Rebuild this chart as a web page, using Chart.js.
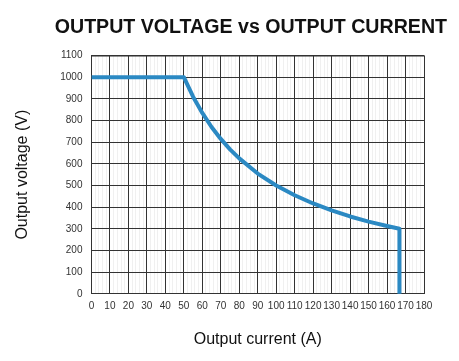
<!DOCTYPE html>
<html>
<head>
<meta charset="utf-8">
<script src="https://cdn.jsdelivr.net/npm/chart.js@4"></script>
<style>
  html, body { margin: 0; padding: 0; background: #fff; }
  #wrap { width: 459px; height: 361px; }
</style>
</head>
<body>
<div id="wrap"><canvas id="vi"></canvas></div>
<script>
// values
var currentA = [0, 50, 55, 60, 65, 70, 75, 80, 90, 100, 110, 120, 130, 140, 150, 160, 166.7, 166.7];
var voltageV = [1000, 1000, 910, 835, 770, 715, 667, 625, 555, 500, 455, 417, 385, 357, 333, 313, 300, 0];

var xTicks = [0, 10, 20, 30, 40, 50, 60, 70, 80, 90, 100, 110, 120, 130, 140, 150, 160, 170, 180];
var yTicks = [0, 100, 200, 300, 400, 500, 600, 700, 800, 900, 1000, 1100];

var fontFam = "Arial, 'Liberation Sans', sans-serif";

var points = currentA.map(function(c, i) { return { x: c, y: voltageV[i] }; });

var ctx = document.getElementById('vi').getContext('2d');
new Chart(ctx, {
    type: 'scatter',
    data: {
        datasets: [{
            data: points,
            showLine: true,
            borderColor: '#2b89c3',
            borderWidth: 4,
            pointRadius: 0,
            tension: 0,
            borderJoinStyle: 'round'
        }]
    },
    options: {
        responsive: true,
        maintainAspectRatio: false,
        animation: false,
        layout: { padding: { left: 5, right: 12, top: 0, bottom: 0 } },
        plugins: {
            legend: { display: false },
            tooltip: { enabled: false },
            title: {
                display: true,
                align: 'end',
                text: 'OUTPUT VOLTAGE vs OUTPUT CURRENT',
                color: '#111',
                font: { family: fontFam, size: 19.6, weight: 'bold' },
                padding: { top: 16, bottom: 16 }
            }
        },
        scales: {
            x: {
                type: 'linear',
                min: 0,
                max: 180,
                border: { color: '#333', width: 1 },
                grid: {
                    drawTicks: false,
                    color: function(c) {
                        var v = c.tick ? c.tick.value : 0;
                        return xTicks.indexOf(v) >= 0 ? '#333' : '#f0f0f0';
                    }
                },
                afterFit: function(axis) {
                    // keep the plot's right edge where the reference has it
                    axis.paddingRight = 35;
                },
                ticks: {
                    stepSize: 2,
                    autoSkip: false,
                    maxRotation: 0,
                    minRotation: 0,
                    padding: 6,
                    color: '#333',
                    font: { family: fontFam, size: 10 },
                    callback: function(v) { return xTicks.indexOf(v) >= 0 ? String(v) : ''; }
                },
                title: {
                    display: true,
                    text: 'Output current (A)',
                    color: '#111',
                    font: { family: fontFam, size: 16 },
                    padding: { top: 12, bottom: 12 }
                }
            },
            y: {
                min: 0,
                max: 1100,
                border: { color: '#333', width: 1 },
                grid: { drawTicks: false, color: '#333' },
                afterBuildTicks: function(axis) {
                    axis.ticks = yTicks.map(function(v) { return { value: v }; });
                },
                ticks: {
                    padding: 9,
                    color: '#333',
                    font: { family: fontFam, size: 10 },
                    callback: function(v) { return String(v); }
                },
                title: {
                    display: true,
                    text: 'Output voltage (V)',
                    color: '#111',
                    font: { family: fontFam, size: 16 },
                    padding: { top: 8, bottom: 19 }
                }
            }
        }
    },
    plugins: [{
        // right and top edge of the grid box
        id: 'frame',
        afterDraw: function(chart) {
            var a = chart.chartArea, c = chart.ctx;
            c.save();
            c.strokeStyle = '#333';
            c.lineWidth = 1;
            c.beginPath();
            c.moveTo(a.left, a.top + 0.5);
            c.lineTo(a.right + 0.5, a.top + 0.5);
            c.lineTo(a.right + 0.5, a.bottom);
            c.stroke();
            c.restore();
        }
    }]
});
</script>
</body>
</html>
